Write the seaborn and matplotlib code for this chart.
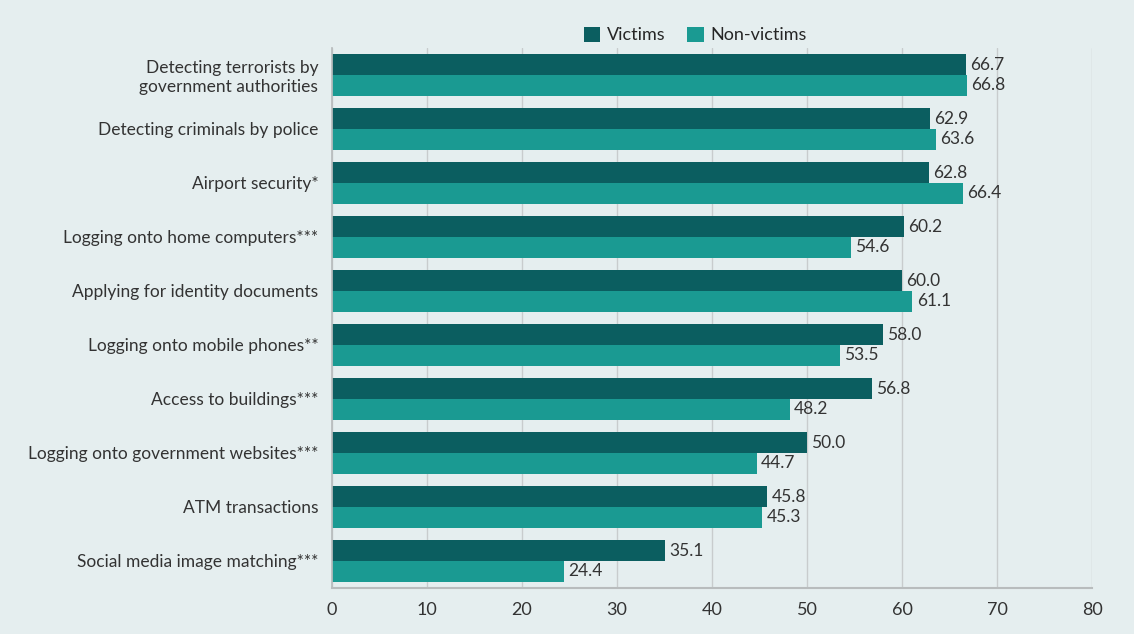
import matplotlib
matplotlib.use("Agg")
import matplotlib.pyplot as plt
import seaborn as sns
import pandas as pd

categories = [
    "Detecting terrorists by\ngovernment authorities",
    "Detecting criminals by police",
    "Airport security*",
    "Logging onto home computers***",
    "Applying for identity documents",
    "Logging onto mobile phones**",
    "Access to buildings***",
    "Logging onto government websites***",
    "ATM transactions",
    "Social media image matching***",
]
victims = [66.7, 62.9, 62.8, 60.2, 60.0, 58.0, 56.8, 50.0, 45.8, 35.1]
non_victims = [66.8, 63.6, 66.4, 54.6, 61.1, 53.5, 48.2, 44.7, 45.3, 24.4]
series = ["Victims", "Non-victims"]
xticks = [0, 10, 20, 30, 40, 50, 60, 70, 80]

df = pd.DataFrame({
    "category": categories * 2,
    "value": victims + non_victims,
    "group": [series[0]] * len(categories) + [series[1]] * len(categories),
})

bg = "#e5eeef"
sns.set_theme(style="white")
plt.rcParams["font.family"] = ["Lato", "DejaVu Sans"]

fig = plt.figure(figsize=(11.34, 6.34), dpi=100, facecolor=bg)
ax = fig.add_axes([0.2928, 0.0726, 0.6702, 0.8517])
ax.set_facecolor(bg)

sns.barplot(data=df, y="category", x="value", hue="group", order=categories,
            hue_order=series, palette=["#0b5e60", "#1a9a92"], width=0.77,
            gap=0.02, orient="h", ax=ax, saturation=1, linewidth=0,
            edgecolor="none")

for cont in ax.containers:
    ax.bar_label(cont, fmt="%.1f", padding=3, fontsize=12.5, color="#333333")

ax.set_xlim(0, 80)
ax.set_ylim(len(categories) - 0.5, -0.5)
ax.set_xticks(xticks)
ax.set_xticklabels([str(t) for t in xticks], fontsize=13, color="#333333")
ax.tick_params(axis="y", labelsize=12.5, colors="#333333", length=0, pad=10)
ax.tick_params(axis="x", length=0, pad=10)
ax.set_xlabel("")
ax.set_ylabel("")
ax.xaxis.grid(True, color="#c8cccd", linewidth=1)
ax.set_axisbelow(True)
for s in ["top", "right"]:
    ax.spines[s].set_visible(False)
ax.spines["left"].set_color("#b8bcbd")
ax.spines["bottom"].set_color("#b8bcbd")
ax.spines["bottom"].set_linewidth(1.5)

h, l = ax.get_legend_handles_labels()
ax.legend(h, l, loc="lower center", bbox_to_anchor=(0.478, 0.995), ncol=2,
          frameon=False, fontsize=13, handlelength=0.9, handleheight=0.9,
          columnspacing=1.2, handletextpad=0.4, borderaxespad=0.0)

fig.savefig("out.png", dpi=100, facecolor=bg)
